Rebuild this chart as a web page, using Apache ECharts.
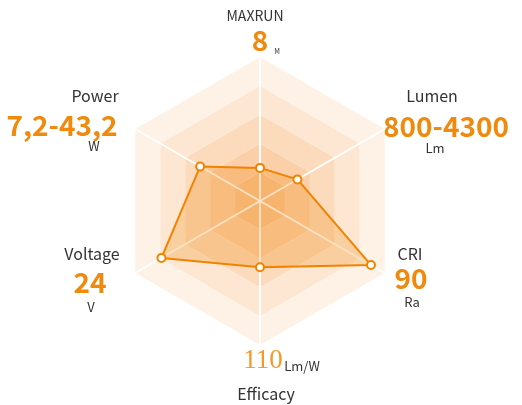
<!DOCTYPE html>
<html>
<head>
<meta charset="utf-8">
<style>html,body{margin:0;padding:0;background:#fff}#c{width:522px;height:405px}</style>
<script src="https://cdn.jsdelivr.net/npm/echarts@6/dist/echarts.min.js"></script>
</head>
<body>
<div id="c"></div>
<script>
// Data (counter-clockwise from top)
const indicatorNames = ['MAXRUN', 'Power', 'Voltage', 'Efficacy', 'CRI', 'Lumen'];
const seriesValues = [23, 48, 79, 46, 89, 30];
const specValues = ['8', '7,2-43,2', '24', '110', '90', '800-4300'];
const specUnits = ['M', 'W', 'V', 'Lm/W', 'Ra', 'Lm'];

// Label layout (x,y of name / value / unit centers)
const labelLayout = [
  {name: [255, 16], nameSize: 14, value: [260, 40], unit: [277, 51], unitSize: 7},
  {name: [95, 96], nameSize: 16, value: [62, 125], unit: [94, 146], unitSize: 13},
  {name: [92, 254], nameSize: 16, value: [90, 282], unit: [91, 307], unitSize: 13},
  {name: [266, 394], nameSize: 16, value: [263, 361], unit: [302, 366], unitSize: 13, serif: true},
  {name: [410, 254], nameSize: 16, value: [411, 278], unit: [412, 302], unitSize: 13},
  {name: [432, 96], nameSize: 16, value: [446, 126], unit: [435, 148], unitSize: 13}
];

const FONT = '"Noto Sans CJK SC", "Noto Sans", sans-serif';
const ORANGE = '#f08a0c';
const graphics = [];
indicatorNames.forEach(function (n, i) {
  const L = labelLayout[i];
  graphics.push({type: 'text', x: L.name[0], y: L.name[1], style: {text: n, font: L.nameSize + 'px ' + FONT, fill: '#333', align: 'center', verticalAlign: 'middle'}});
  graphics.push({type: 'text', x: L.value[0], y: L.value[1], style: {
    text: specValues[i],
    font: L.serif ? '27px "Liberation Serif", serif' : 'bold 28px ' + FONT,
    fill: L.serif ? '#f39a2a' : ORANGE, align: 'center', verticalAlign: 'middle'}});
  graphics.push({type: 'text', x: L.unit[0], y: L.unit[1], style: {text: specUnits[i], font: L.unitSize + 'px ' + FONT, fill: '#333', align: 'center', verticalAlign: 'middle'}});
});

const chart = echarts.init(document.getElementById('c'));
chart.setOption({
  animation: false,
  graphic: graphics,
  radar: {
    center: [260, 201],
    radius: 144,
    shape: 'polygon',
    splitNumber: 5,
    indicator: indicatorNames.map(function (n) { return {name: n, max: 100}; }),
    axisName: {show: false},
    axisLine: {lineStyle: {color: '#fff', width: 2}},
    splitLine: {show: false},
    splitArea: {show: true, areaStyle: {color: ['#fac492', '#fbcfa7', '#fcdbbd', '#fde7d2', '#fef2e7']}}
  },
  series: [{
    type: 'radar',
    symbol: 'emptyCircle',
    symbolSize: 8,
    data: [{value: seriesValues}],
    lineStyle: {color: '#f08300', width: 2},
    itemStyle: {color: '#f08300', borderWidth: 2},
    areaStyle: {color: 'rgba(240,131,0,0.35)'}
  }]
});
</script>
</body>
</html>
